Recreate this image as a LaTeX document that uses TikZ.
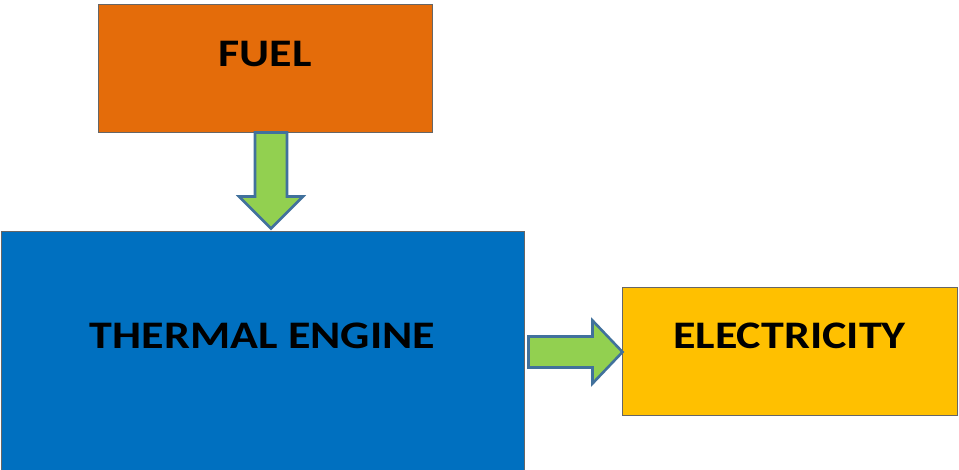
\documentclass[tikz,border=0pt]{standalone}
\usepackage{fontspec}
\setmainfont{Carlito}
\newfontfamily\boxfont[FakeStretch=1.18]{Carlito}
\usetikzlibrary{calc}
\definecolor{FuelOrange}{HTML}{E46C0A}
\definecolor{EngineBlue}{HTML}{0070C0}
\definecolor{ElecYellow}{HTML}{FFC000}
\definecolor{ArrowGreen}{HTML}{92D050}
\definecolor{ArrowEdge}{HTML}{41719C}

\begin{document}
\begin{tikzpicture}[x=1pt, y=-1pt,
      blk/.style={draw=black!60, line width=1pt, rectangle, inner sep=0pt,
                  font=\boxfont\fontsize{39}{40}\selectfont\bfseries,
                  text depth=28pt},
      blockar/.style={draw=ArrowEdge, line width=2.6pt, fill=ArrowGreen,
                      line join=miter},
    ]
      \useasboundingbox (0,0) rectangle (959,469);
      \node[blk, fill=FuelOrange, minimum width=334pt, minimum height=128pt]
            (fuel) at (265,68) {FUEL};
      \node[blk, fill=EngineBlue, minimum width=523pt, minimum height=240pt,
            text depth=31pt] (engine) at (262.5,351) {THERMAL ENGINE};
      \node[blk, fill=ElecYellow, minimum width=335pt, minimum height=128pt,
            text depth=30pt] (elec) at (789.5,351) {ELECTRICITY};
      % fuel -> engine
      \coordinate (d0) at ($(fuel.south)+(6,0)$);
      \draw[blockar] (d0) ++(-16,0) -- ++(32,0) -- ++(0,64) -- ++(16,0)
            -- ++(-32,32) -- ++(-32,-32) -- ++(16,0) -- cycle;
      % engine -> electricity
      \coordinate (r0) at ($(engine.east)+(4,1)$);
      \draw[blockar] (r0) ++(0,-15.5) -- ++(64,0) -- ++(0,-16) -- ++(30,31.5)
            -- ++(-30,31.5) -- ++(0,-16) -- ++(-64,0) -- cycle;
\end{tikzpicture}
\end{document}
